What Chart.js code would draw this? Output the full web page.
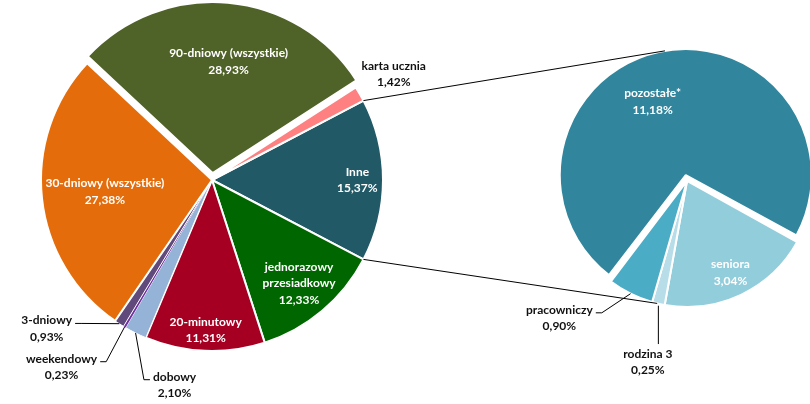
<!DOCTYPE html>
<html lang="pl">
<head>
<meta charset="utf-8">
<title>Struktura sprzedaży biletów</title>
<script src="https://cdn.jsdelivr.net/npm/chart.js@4.4.1/dist/chart.umd.min.js"></script>
<style>
  html, body { margin: 0; padding: 0; background: #fff; }
  #wrap { position: relative; width: 810px; height: 404px; overflow: hidden; }
  .layer { position: absolute; left: 0; top: 0; width: 810px; height: 404px; }
</style>
</head>
<body>
<div id="wrap">
  <div class="layer"><canvas id="mainPie"></canvas></div>
  <div class="layer"><canvas id="otherPie"></canvas></div>
</div>
<script>
// main pie, clockwise starting from "Inne"
const mainNames = [['Inne'], ['jednorazowy', 'przesiadkowy'], ['20-minutowy'], ['dobowy'], ['weekendowy'], ['3-dniowy'], ['30-dniowy (wszystkie)'], ['90-dniowy (wszystkie)'], ['karta ucznia']];
const mainShares = [15.37, 12.33, 11.31, 2.10, 0.23, 0.93, 27.38, 28.93, 1.42];

// breakdown of "Inne"
const otherNames = [['seniora'], ['rodzina 3'], ['pracowniczy'], ['pozostałe*']];
const otherShares = [3.04, 0.25, 0.90, 11.18];

const mainColors = ['#215967', '#006600', '#A50021', '#95B3D7', '#7030A0', '#604A7B', '#E46C0A', '#4F6228', '#FF8080'];
const otherColors = ['#92CDDC', '#B7DEE8', '#4BACC6', '#31859C'];

const FONT = 'bold 12px Lato';
const LINE_H = 16.5;

// label placement: r = fraction of radius, dx/dy = offset of an outside label from the rim
const mainPlace = [
    { r: 0.85 },
    { r: 0.79 },
    { r: 0.88 },
    { dx: 39, dy: 52, side: 'left' },
    { dx: -63, dy: 40, side: 'right' },
    { dx: -72.6, dy: 5, side: 'right' },
    { r: 0.63 },
    { r: 0.66, rot: 3 },
    { r: 1.23, dark: true }
];
const otherPlace = [
    { r: 0.805 },
    { dx: -10.5, dy: 58.6, side: 'top' },
    { dx: -71.2, dy: 24.4, side: 'right' },
    { r: 0.67, rot: -12.4 }
];

function pct(v) { return v.toFixed(2).replace('.', ',') + '%'; }

function centerOf(arc) {
    const off = (arc.options.offset || 0) / 4;
    const half = (arc.startAngle + arc.endAngle) / 2;
    return { x: arc.x + Math.cos(half) * off, y: arc.y + Math.sin(half) * off };
}

// exploded slices keep the same radius as the rest (Chart.js grows big ones)
const keepRadius = {
    id: 'keepRadius',
    afterUpdate(chart) {
        chart.getDatasetMeta(0).data.forEach(arc => {
            const off = (arc.options.offset || 0) / 4;
            const fix = 1 - Math.sin(Math.min(Math.PI, arc.endAngle - arc.startAngle));
            arc.outerRadius -= off * fix;
        });
    }
};

const sliceLabels = {
    id: 'sliceLabels',
    afterDatasetsDraw(chart, args, opts) {
        const ctx = chart.ctx;
        const arcs = chart.getDatasetMeta(0).data;
        const values = chart.data.datasets[0].data;
        ctx.save();
        ctx.font = FONT;
        ctx.textAlign = 'center';
        ctx.textBaseline = 'middle';
        arcs.forEach((arc, i) => {
            const p = opts.place[i];
            const c = centerOf(arc);
            const half = (arc.startAngle + arc.endAngle) / 2;
            const lines = opts.names[i].concat(pct(values[i]));
            let cx, cy, dark = p.dark;
            if (p.dx !== undefined) {
                dark = true;
                const ex = c.x + Math.cos(half) * arc.outerRadius;
                const ey = c.y + Math.sin(half) * arc.outerRadius;
                cx = ex + p.dx;
                cy = ey + p.dy;
                const y1 = cy - (lines.length - 1) * LINE_H / 2;
                const w1 = ctx.measureText(lines[0]).width;
                ctx.beginPath();
                ctx.strokeStyle = '#000';
                ctx.lineWidth = 1;
                if (p.side === 'top') {
                    ctx.moveTo(ex, ey + 2);
                    ctx.lineTo(ex, y1 - 10);
                } else {
                    const dir = p.side === 'right' ? 1 : -1;
                    const ax = cx + dir * (w1 / 2 + 3);
                    const ay = y1 + 3;
                    ctx.moveTo(ax, ay);
                    ctx.lineTo(ax + dir * 6, ay);
                    ctx.lineTo(ex, ey);
                }
                ctx.stroke();
            } else {
                const a = half + (p.rot || 0) * Math.PI / 180;
                cx = c.x + Math.cos(a) * arc.outerRadius * p.r;
                cy = c.y + Math.sin(a) * arc.outerRadius * p.r;
            }
            ctx.fillStyle = dark ? '#111' : '#fff';
            const top = cy - (lines.length - 1) * LINE_H / 2;
            lines.forEach((t, k) => ctx.fillText(t, cx, top + k * LINE_H));
        });
        ctx.restore();
    }
};

const tooltipOpts = {
    callbacks: {
        label: function(context) { return ' ' + pct(context.raw); }
    }
};

const mainChart = new Chart(document.getElementById('mainPie'), {
    type: 'pie',
    data: {
        labels: mainNames.map(n => n.join(' ')),
        datasets: [{
            data: mainShares,
            backgroundColor: mainColors,
            borderColor: '#ffffff',
            borderWidth: [2, 2, 2, 1, 0, 1, 2, 2, 2],
            offset: [0, 0, 0, 0, 0, 0, 0, 28, 0],
            hoverOffset: 0
        }]
    },
    options: {
        responsive: true,
        maintainAspectRatio: false,
        animation: false,
        radius: 171,
        rotation: 90 - mainShares[0] * 1.8,
        layout: { padding: { left: 0, right: 386, top: 0, bottom: 44 } },
        plugins: {
            legend: { display: false },
            tooltip: tooltipOpts,
            sliceLabels: { names: mainNames, place: mainPlace }
        }
    },
    plugins: [keepRadius, sliceLabels]
});

// connector lines between "Inne" and the second pie
const JOIN_TOP = 350.5;
const JOIN_BOTTOM = 193.7;
const connectors = {
    id: 'connectors',
    afterDraw(chart) {
        const src = mainChart.getDatasetMeta(0).data[0];
        const arcs = chart.getDatasetMeta(0).data;
        const big = centerOf(arcs[arcs.length - 1]);
        const base = arcs[0];
        const rad = d => (d - 90) * Math.PI / 180;
        const ctx = chart.ctx;
        ctx.save();
        ctx.strokeStyle = '#000';
        ctx.lineWidth = 1;
        ctx.beginPath();
        ctx.moveTo(src.x + Math.cos(src.startAngle) * src.outerRadius, src.y + Math.sin(src.startAngle) * src.outerRadius);
        ctx.lineTo(big.x + Math.cos(rad(JOIN_TOP)) * base.outerRadius, big.y + Math.sin(rad(JOIN_TOP)) * base.outerRadius);
        ctx.moveTo(src.x + Math.cos(src.endAngle) * src.outerRadius, src.y + Math.sin(src.endAngle) * src.outerRadius);
        ctx.lineTo(base.x + Math.cos(rad(JOIN_BOTTOM)) * base.outerRadius, base.y + Math.sin(rad(JOIN_BOTTOM)) * base.outerRadius);
        ctx.stroke();
        ctx.restore();
    }
};

const otherChart = new Chart(document.getElementById('otherPie'), {
    type: 'pie',
    data: {
        labels: otherNames.map(n => n.join(' ')),
        datasets: [{
            data: otherShares,
            backgroundColor: otherColors,
            borderColor: '#ffffff',
            borderWidth: 2,
            offset: [0, 0, 0, 24],
            hoverOffset: 0
        }]
    },
    options: {
        responsive: true,
        maintainAspectRatio: false,
        animation: false,
        radius: 126,
        rotation: 119,
        layout: { padding: { left: 564, right: 0, top: 58, bottom: 100 } },
        plugins: {
            legend: { display: false },
            tooltip: tooltipOpts,
            sliceLabels: { names: otherNames, place: otherPlace }
        }
    },
    plugins: [keepRadius, sliceLabels, connectors]
});
</script>
</body>
</html>
